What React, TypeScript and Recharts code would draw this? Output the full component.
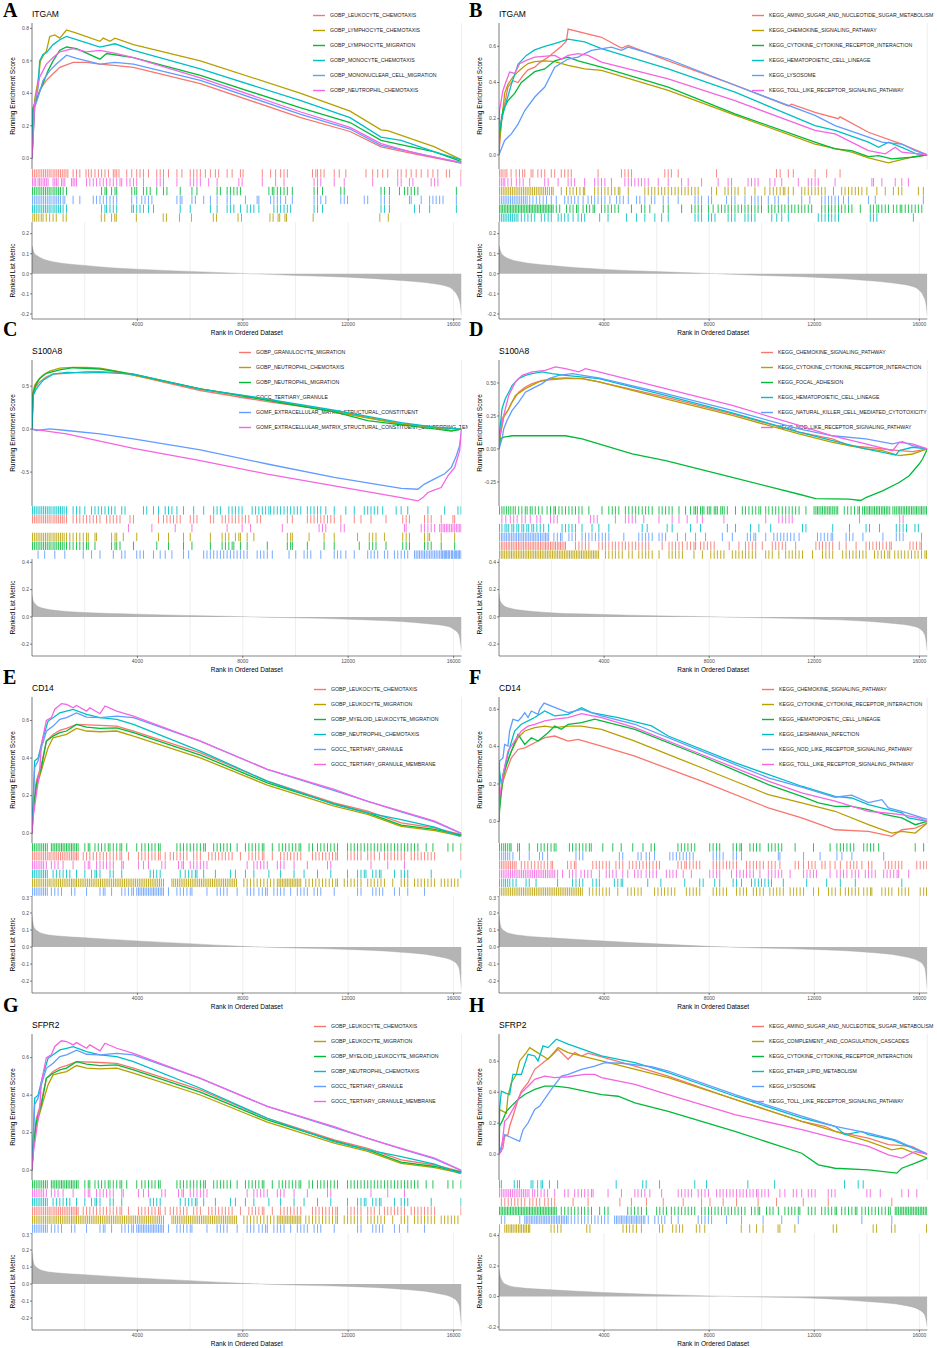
import React from "react"
import { Area, AreaChart, CartesianGrid, Line, LineChart, Scatter, ScatterChart, XAxis, YAxis } from "recharts"

// ggplot default hue palette, in legend order
const hue = ["#F8766D", "#B79F00", "#00BA38", "#00BFC4", "#619CFF", "#F564E3"]
const maxRank = 16300
const rankTicks = [4000, 8000, 12000, 16000]
const gridTicks = [2000, 4000, 6000, 8000, 10000, 12000, 14000, 16000]

// ---------- A: ITGAM (GO) ----------
const setsA = ["GOBP_LEUKOCYTE_CHEMOTAXIS", "GOBP_LYMPHOCYTE_CHEMOTAXIS", "GOBP_LYMPHOCYTE_MIGRATION", "GOBP_MONOCYTE_CHEMOTAXIS", "GOBP_MONONUCLEAR_CELL_MIGRATION", "GOBP_NEUTROPHIL_CHEMOTAXIS"]
const esA1 = [[0, 0], [100, 0.315], [290, 0.42], [545, 0.48], [800, 0.52], [1055, 0.56], [1560, 0.59], [2070, 0.59], [2580, 0.58], [3215, 0.57], [3850, 0.56], [6390, 0.46], [10200, 0.25], [12070, 0.165], [13245, 0.07], [14645, 0.023], [16300, -0.03]]
const esA2 = [[0, 0], [100, 0.36], [230, 0.48], [320, 0.6], [420, 0.63], [545, 0.66], [675, 0.75], [865, 0.76], [1055, 0.74], [1310, 0.79], [1690, 0.77], [2580, 0.72], [2705, 0.74], [2960, 0.72], [3150, 0.74], [3850, 0.7], [6390, 0.6], [10200, 0.4], [12070, 0.29], [13245, 0.175], [13500, 0.17], [15280, 0.07], [16300, -0.01]]
const esA3 = [[0, 0], [40, 0.31], [165, 0.36], [420, 0.46], [610, 0.54], [800, 0.6], [1055, 0.665], [1310, 0.685], [1690, 0.675], [2580, 0.61], [2830, 0.645], [3850, 0.62], [6390, 0.51], [10200, 0.31], [12070, 0.22], [13245, 0.11], [15280, 0.04], [16300, -0.02]]
const esA4 = [[0, 0], [40, 0.3], [165, 0.38], [230, 0.44], [290, 0.6], [420, 0.64], [545, 0.65], [800, 0.7], [1055, 0.73], [1310, 0.75], [1690, 0.73], [2580, 0.685], [3150, 0.705], [3850, 0.665], [6390, 0.55], [10200, 0.355], [12070, 0.25], [13245, 0.13], [14010, 0.11], [15280, 0.04], [16300, -0.01]]
const esA5 = [[0, 0], [100, 0.315], [230, 0.375], [420, 0.48], [675, 0.54], [925, 0.58], [1310, 0.635], [1690, 0.615], [2580, 0.58], [3150, 0.59], [3850, 0.58], [6390, 0.48], [10200, 0.27], [12070, 0.18], [13245, 0.08], [14645, 0.03], [16300, -0.03]]
const esA6 = [[0, 0], [100, 0.335], [290, 0.5], [545, 0.58], [800, 0.62], [1055, 0.655], [1560, 0.675], [2070, 0.655], [2580, 0.665], [3215, 0.645], [3850, 0.62], [6390, 0.495], [10200, 0.285], [12070, 0.19], [13245, 0.09], [14645, 0.027], [16300, -0.025]]
const hitsA1 = [20, 90, 160, 230, 300, 370, 440, 510, 580, 650, 720, 800, 870, 940, 1010, 1080, 1150, 1220, 1290, 1360, 1560, 1690, 1815, 2050, 2150, 2250, 2390, 2520, 2640, 2770, 2900, 3085, 3150, 3215, 3300, 3595, 3785, 3975, 4100, 4230, 4420, 4735, 4865, 4990, 5180, 5500, 5690, 6005, 6135, 6260, 6390, 6580, 6770, 6960, 7085, 7405, 7595, 7910, 8010, 8740, 9055, 9245, 9435, 9565, 9690, 10645, 10770, 10835, 10960, 11085, 11470, 11660, 11910, 12675, 12930, 13120, 13310, 13500, 13880, 14010, 14200, 14390, 14580, 14770, 15025, 15215, 15400, 15725, 15850, 16280]
const hitsA2 = [30, 100, 180, 260, 350, 420, 540, 670, 800, 920, 1180, 1300, 2630, 2760, 3020, 3140, 3200, 3960, 4980, 5100, 5600, 6050, 6880, 7000, 7820, 7950, 9030, 9150, 9340, 9400, 9600, 9660, 10670, 13200, 13520]
const hitsA3 = [20, 90, 160, 230, 300, 370, 440, 510, 580, 650, 720, 800, 870, 940, 1010, 1080, 1180, 1310, 2640, 2770, 2830, 3020, 3150, 3215, 3785, 3900, 3975, 4230, 4355, 4485, 4735, 4990, 5120, 5625, 6070, 6260, 7025, 7150, 7405, 7530, 7660, 7785, 7910, 8990, 9120, 9180, 9310, 9435, 9565, 9690, 9880, 10705, 10835, 11025, 11720, 11850, 13245, 13375, 13565, 13945, 14135, 14260, 14390, 14515, 14645, 16105]
const hitsA4 = [20, 90, 160, 230, 300, 370, 440, 510, 580, 650, 720, 800, 870, 940, 1010, 1080, 1180, 1310, 2640, 2770, 2830, 2960, 3085, 3215, 3785, 3850, 3975, 4100, 4230, 4420, 4610, 5625, 6005, 6770, 7025, 7405, 7530, 7660, 7910, 8165, 8295, 8420, 8610, 9180, 9310, 9435, 9565, 9690, 9815, 10705, 10835, 11025, 13245, 13375, 13565, 14515, 14705, 15090, 16105]
const hitsA5 = [20, 90, 160, 230, 300, 370, 440, 510, 580, 650, 720, 800, 870, 940, 1010, 1080, 1180, 1245, 1560, 1815, 2325, 2450, 2580, 2705, 2830, 2960, 3085, 3215, 3785, 3975, 4165, 4290, 4420, 4550, 5500, 5625, 5690, 6070, 6200, 6515, 6770, 7025, 7405, 7530, 8100, 8545, 8610, 9055, 9180, 9310, 9435, 9625, 9880, 10705, 10835, 10960, 11150, 11720, 11850, 11975, 12610, 12740, 13245, 13375, 13565, 14325, 14390, 14770, 15090, 15215, 15340, 15470, 15600, 16105]
const hitsA6 = [20, 80, 140, 230, 290, 350, 420, 480, 545, 610, 800, 865, 925, 990, 1120, 1180, 1245, 1500, 1560, 1625, 1690, 2070, 2195, 2325, 2450, 2580, 2705, 2830, 2960, 3085, 3215, 3340, 3405, 3595, 3720, 3850, 3975, 4230, 4735, 4865, 4990, 5500, 6005, 6135, 6260, 6390, 6705, 7025, 7850, 7975, 8740, 9245, 9565, 10705, 10835, 10960, 11470, 11850, 12930, 13880, 14010, 14325, 14455, 15150, 15280, 15405, 16280]
const rowsA = [0, 5, 2, 4, 3, 1]
const rankedA = [[0, 0.14], [40, 0.12], [100, 0.1], [200, 0.09], [400, 0.075], [800, 0.06], [1300, 0.05], [2000, 0.042], [3000, 0.03], [4000, 0.023], [6000, 0.012], [8000, 0.002], [10000, -0.008], [12000, -0.017], [14000, -0.033], [15000, -0.045], [15800, -0.065], [16000, -0.083], [16150, -0.11], [16250, -0.15], [16300, -0.21]]

// ---------- B: ITGAM (KEGG) ----------
const setsB = ["KEGG_AMINO_SUGAR_AND_NUCLEOTIDE_SUGAR_METABOLISM", "KEGG_CHEMOKINE_SIGNALING_PATHWAY", "KEGG_CYTOKINE_CYTOKINE_RECEPTOR_INTERACTION", "KEGG_HEMATOPOIETIC_CELL_LINEAGE", "KEGG_LYSOSOME", "KEGG_TOLL_LIKE_RECEPTOR_SIGNALING_PATHWAY"]
const esB1 = [[0, 0], [90, 0.2], [215, 0.28], [340, 0.375], [530, 0.41], [725, 0.4], [915, 0.44], [1105, 0.47], [1360, 0.485], [1550, 0.51], [1865, 0.54], [2120, 0.57], [2375, 0.6], [2565, 0.63], [2630, 0.695], [3900, 0.65], [4660, 0.59], [4915, 0.605], [6440, 0.52], [8980, 0.385], [11010, 0.27], [11135, 0.28], [12025, 0.235], [12915, 0.2], [12980, 0.21], [14060, 0.125], [15330, 0.06], [16300, 0]]
const esB2 = [[0, 0], [20, 0.08], [90, 0.17], [215, 0.34], [340, 0.39], [530, 0.43], [725, 0.46], [915, 0.485], [1105, 0.505], [1360, 0.515], [1740, 0.52], [2120, 0.515], [2630, 0.495], [3260, 0.475], [3900, 0.467], [6440, 0.356], [8980, 0.22], [12025, 0.06], [13420, 0.015], [14060, -0.017], [14820, -0.044], [15200, -0.03], [15710, -0.013], [16300, 0]]
const esB3 = [[0, 0], [20, 0.12], [150, 0.245], [340, 0.3], [595, 0.34], [850, 0.4], [1105, 0.43], [1360, 0.46], [1740, 0.475], [2120, 0.52], [2630, 0.54], [3010, 0.52], [3900, 0.485], [6440, 0.375], [8980, 0.227], [12025, 0.07], [12790, 0.033], [13420, 0.024], [14060, -0.01], [14450, -0.004], [14950, -0.022], [15710, -0.013], [16300, 0]]
const esB4 = [[0, 0], [20, 0.15], [215, 0.26], [470, 0.39], [725, 0.5], [1040, 0.55], [1360, 0.58], [1740, 0.6], [2120, 0.615], [2630, 0.64], [3260, 0.625], [3900, 0.587], [6440, 0.476], [8980, 0.347], [12025, 0.162], [12790, 0.135], [14060, 0.07], [14450, 0.042], [14820, 0.07], [15330, 0.042], [15900, 0.005], [16300, 0]]
const esB5 = [[0, 0], [215, 0.08], [470, 0.116], [725, 0.17], [980, 0.245], [1360, 0.32], [1740, 0.375], [2120, 0.485], [2630, 0.53], [3010, 0.54], [3260, 0.56], [3520, 0.578], [4280, 0.596], [4660, 0.578], [4915, 0.596], [6440, 0.53], [8980, 0.385], [12025, 0.218], [12790, 0.162], [14060, 0.098], [14570, 0.07], [15330, 0.06], [15840, 0.024], [16300, 0]]
const esB6 = [[0, 0], [20, 0.245], [150, 0.356], [280, 0.41], [405, 0.458], [595, 0.45], [785, 0.504], [1040, 0.522], [1360, 0.54], [2120, 0.55], [2375, 0.53], [2630, 0.55], [3010, 0.56], [3390, 0.55], [3900, 0.513], [6440, 0.42], [8980, 0.3], [12025, 0.135], [12790, 0.116], [14060, 0.024], [14700, 0.006], [15080, 0.042], [15330, 0.015], [16300, 0]]
const hitsB1 = [20, 80, 150, 230, 300, 460, 650, 780, 900, 980, 1220, 1290, 1480, 1610, 1740, 1990, 2120, 2370, 2500, 2630, 2750, 3770, 4660, 4790, 4920, 5040, 6310, 6440, 6560, 6820, 8280, 10560, 10700, 11010, 11200, 12030, 12470, 12980]
const hitsB2 = [20, 90, 160, 230, 300, 370, 440, 510, 580, 650, 720, 790, 860, 930, 1000, 1070, 1140, 1210, 1280, 1350, 1420, 1490, 1560, 1630, 1700, 1770, 1840, 1920, 2000, 2060, 2370, 2570, 2700, 2820, 2950, 3080, 3210, 3260, 3640, 3770, 3900, 4030, 4150, 4280, 4410, 4540, 4600, 4920, 5550, 5680, 5810, 5930, 6060, 6190, 6310, 6440, 6570, 6700, 6820, 6950, 7080, 7200, 7330, 7460, 7580, 8090, 8280, 8600, 8720, 8850, 8980, 9100, 9360, 9740, 10120, 10310, 10440, 10570, 10700, 10820, 10880, 11010, 11200, 11520, 11640, 11770, 11900, 12030, 12150, 12280, 12410, 12730, 13040, 13170, 13300, 13430, 13560, 13680, 13810, 14000, 14380, 14700, 15010, 15200, 15330, 15960, 16150]
const hitsB3 = [20, 80, 140, 200, 260, 320, 380, 440, 500, 560, 620, 680, 740, 800, 860, 920, 980, 1040, 1100, 1160, 1220, 1280, 1340, 1400, 1460, 1520, 1580, 1640, 1700, 1760, 1820, 1880, 1940, 2000, 2060, 2180, 2310, 2570, 2700, 2820, 2950, 3010, 3200, 3330, 3450, 3580, 3640, 3900, 4030, 4150, 4280, 4410, 4540, 5040, 5420, 5550, 5740, 6250, 6440, 6950, 7330, 7460, 7580, 7710, 7970, 8150, 8340, 8470, 8600, 8720, 8850, 8980, 9100, 9230, 9360, 9480, 9610, 9740, 9860, 9990, 10250, 10380, 10500, 10630, 10760, 10880, 11010, 11140, 11260, 11390, 11520, 11640, 11770, 11900, 12280, 12410, 12540, 12660, 12790, 12920, 13040, 13170, 13300, 13430, 13750, 14130, 14250, 14380, 14450, 14570, 14700, 14820, 15010, 15140, 15270, 15330, 15460, 15580, 15710, 15840, 15960, 16090]
const hitsB4 = [20, 90, 160, 230, 300, 370, 440, 510, 580, 650, 720, 850, 980, 1100, 1230, 1360, 1610, 1740, 1870, 1990, 2250, 2370, 2500, 2630, 2820, 3010, 3140, 3260, 3830, 4150, 4850, 5230, 5550, 5930, 6190, 6440, 7460, 7580, 7710, 7970, 8090, 8220, 8720, 8850, 8980, 9360, 9480, 9610, 9740, 10380, 10570, 10760, 11010, 12150, 12280, 12410, 12540, 12660, 12790, 12920, 14130, 14250, 14380, 15770]
const hitsB5 = [20, 90, 160, 230, 300, 370, 440, 510, 580, 650, 720, 790, 860, 930, 1000, 1070, 1170, 1290, 1420, 1550, 1680, 1810, 1990, 2180, 2500, 2630, 2750, 2880, 3010, 3200, 3390, 3520, 3640, 3770, 3900, 4030, 4220, 4470, 4600, 4730, 4920, 5230, 5360, 5550, 5800, 5930, 6250, 6440, 6820, 7460, 7580, 7710, 7970, 8090, 8660, 8850, 8980, 9360, 9610, 9740, 9860, 9990, 10250, 10500, 10630, 11010, 11520, 11830, 12280, 12410, 12540, 12660, 12790, 12920, 13110, 13300, 14060, 14320, 16150]
const hitsB6 = [20, 90, 160, 220, 340, 470, 660, 790, 920, 1170, 1740, 1870, 2250, 2630, 2750, 2880, 3260, 3640, 3770, 3900, 4030, 4280, 4790, 4920, 5040, 5170, 5300, 5420, 5550, 5680, 6060, 6440, 6950, 7200, 7710, 8340, 8720, 8850, 9480, 9610, 9740, 9860, 10310, 10500, 10760, 11390, 11770, 11900, 12030, 12150, 12790, 14190, 14250, 14570, 15080, 15330, 15580]
const rowsB = [0, 5, 1, 4, 2, 3]
const rankedB = [[0, 0.14], [40, 0.12], [100, 0.1], [200, 0.088], [400, 0.074], [800, 0.06], [1300, 0.05], [2000, 0.041], [3000, 0.03], [4000, 0.022], [6000, 0.011], [8000, 0.002], [10000, -0.008], [12000, -0.017], [14000, -0.033], [15000, -0.046], [15800, -0.066], [16000, -0.083], [16150, -0.11], [16250, -0.15], [16300, -0.21]]

// ---------- C: S100A8 (GO) ----------
const setsC = ["GOBP_GRANULOCYTE_MIGRATION", "GOBP_NEUTROPHIL_CHEMOTAXIS", "GOBP_NEUTROPHIL_MIGRATION", "GOCC_TERTIARY_GRANULE", "GOMF_EXTRACELLULAR_MATRIX_STRUCTURAL_CONSTITUENT", "GOMF_EXTRACELLULAR_MATRIX_STRUCTURAL_CONSTITUENT_CONFERRING_TENSILE_STRENGTH"]
const esC1 = [[0, 0], [40, 0.41], [140, 0.49], [290, 0.55], [545, 0.61], [800, 0.64], [1310, 0.65], [2070, 0.67], [2580, 0.67], [3215, 0.66], [3850, 0.63], [6390, 0.45], [8930, 0.32], [11470, 0.21], [14010, 0.06], [15280, 0.023], [16300, 0]]
const esC2 = [[0, 0], [40, 0.43], [100, 0.51], [230, 0.57], [420, 0.63], [675, 0.675], [1055, 0.71], [1560, 0.72], [2070, 0.72], [2580, 0.71], [3215, 0.675], [3850, 0.63], [6390, 0.47], [8930, 0.345], [11470, 0.2], [14010, 0.06], [15280, 0.023], [15915, -0.016], [16300, 0]]
const esC3 = [[0, 0], [40, 0.41], [140, 0.51], [290, 0.59], [545, 0.65], [1055, 0.69], [1560, 0.715], [2580, 0.7], [3850, 0.64], [6390, 0.47], [8930, 0.335], [11470, 0.2], [12740, 0.1], [14010, 0.05], [15280, 0.004], [15915, -0.023], [16300, 0]]
const esC4 = [[0, 0], [40, 0.39], [165, 0.47], [420, 0.57], [800, 0.64], [1310, 0.66], [2070, 0.655], [2580, 0.66], [3850, 0.64], [6390, 0.465], [8420, 0.375], [8930, 0.35], [11470, 0.22], [14010, 0.075], [15280, 0.023], [16300, 0]]
const esC5 = [[0, 0], [165, -0.016], [675, 0.004], [1310, -0.016], [2580, -0.055], [3850, -0.113], [6390, -0.242], [8930, -0.406], [11470, -0.5625], [14010, -0.69], [14645, -0.7], [14895, -0.64], [15280, -0.58], [15660, -0.52], [15915, -0.445], [16105, -0.31], [16230, -0.19], [16300, 0]]
const esC6 = [[0, 0], [1310, -0.055], [3850, -0.223], [6390, -0.367], [8930, -0.523], [11470, -0.66], [14010, -0.797], [14645, -0.836], [14835, -0.797], [15025, -0.738], [15280, -0.707], [15530, -0.68], [15785, -0.543], [16040, -0.445], [16230, -0.25], [16300, 0]]
const hitsC1 = [20, 90, 160, 230, 300, 370, 440, 510, 580, 650, 720, 800, 870, 940, 1010, 1080, 1150, 1220, 1310, 1560, 1690, 1815, 1945, 2070, 2195, 2325, 2450, 2580, 2830, 2960, 3085, 3215, 3340, 3720, 3850, 4800, 4990, 5120, 5245, 5370, 5500, 5625, 6005, 6135, 6260, 6770, 6895, 7215, 7340, 7470, 7595, 7720, 7850, 7975, 8100, 8230, 8545, 8675, 9690, 9880, 10450, 10580, 10705, 10835, 10960, 11085, 11215, 11340, 11470, 11720, 12230, 12485, 12865, 13435, 14070, 14200, 14325, 14895, 15025, 15150, 15530, 15975, 16040]
const hitsC2 = [20, 90, 160, 230, 300, 370, 440, 510, 580, 650, 720, 800, 870, 940, 1010, 1080, 1150, 1220, 1310, 1435, 1560, 1690, 1815, 1945, 2070, 2135, 2390, 2450, 3020, 3150, 3215, 3465, 3975, 4800, 5180, 5750, 6005, 6770, 7215, 7340, 7470, 7720, 7850, 7910, 8165, 8420, 9690, 9815, 9880, 10515, 11085, 11470, 12355, 12800, 12930, 13055, 13375, 14070, 14200, 14325, 14895, 15025, 15090, 15530, 16040]
const hitsC3 = [20, 90, 160, 230, 300, 370, 440, 510, 580, 650, 720, 800, 870, 940, 1010, 1080, 1150, 1220, 1310, 1435, 1560, 1690, 1815, 1945, 2070, 2135, 2390, 3020, 3150, 3215, 3340, 3850, 4735, 5180, 5750, 6070, 6770, 7215, 7340, 7470, 7595, 7660, 7910, 8165, 8930, 9690, 9815, 9880, 10450, 11085, 11470, 12420, 12800, 12930, 13055, 13435, 14070, 14200, 14325, 14895, 15025, 15150, 15530, 16040]
const hitsC4 = [20, 90, 160, 230, 300, 370, 440, 510, 580, 650, 720, 800, 870, 940, 1010, 1080, 1150, 1220, 1310, 1560, 1690, 1815, 2005, 2260, 2390, 2515, 2640, 2770, 2900, 3020, 3150, 3405, 3530, 4230, 4355, 4610, 4800, 5055, 5180, 5310, 5500, 5750, 6135, 6515, 6895, 7025, 7150, 7470, 7595, 7720, 7850, 7975, 8355, 8485, 8610, 8740, 8865, 8990, 9055, 9180, 9310, 9435, 9565, 9690, 9815, 9945, 10070, 10200, 10450, 10580, 10705, 10835, 10960, 11150, 11470, 11910, 12230, 12610, 12740, 12865, 12990, 13120, 13310, 13820, 14010, 14260, 15025, 15660, 16165, 16280]
const hitsC5 = [230, 480, 865, 1245, 1945, 2260, 2580, 3085, 3405, 3530, 3975, 4100, 4230, 4610, 4865, 5055, 5310, 5750, 5945, 6515, 6640, 6770, 6895, 7025, 7150, 7275, 7405, 7530, 7660, 7785, 7910, 8040, 8165, 8545, 8675, 8800, 8930, 9120, 9755, 10010, 10325, 10450, 10580, 10960, 11470, 11595, 11720, 11910, 12230, 12740, 12865, 12990, 13120, 13375, 13500, 13755, 13880, 14010, 14135, 14260, 14515, 14580, 14645, 14705, 14770, 14835, 14895, 14960, 15025, 15090, 15150, 15215, 15280, 15340, 15405, 15470, 15530, 15570, 15600, 15660, 15700, 15725, 15785, 15820, 15850, 15915, 15950, 15975, 16040, 16080, 16105, 16165, 16200, 16230, 16280]
const hitsC6 = [3660, 4550, 5435, 6070, 7405, 7975, 8295, 9500, 10895, 11025, 11150, 11720, 11850, 14135, 14200, 14770, 14895, 15025, 15150, 15280, 15470, 15530, 15600, 15660, 15725, 15785, 15850, 15915, 15975, 16040, 16105, 16165, 16230, 16280]
const rowsC = [3, 0, 5, 1, 2, 4]
const rankedC = [[0, 0.16], [40, 0.12], [100, 0.1], [200, 0.08], [400, 0.065], [800, 0.05], [1300, 0.04], [2000, 0.032], [4000, 0.02], [6000, 0.01], [8000, 0.002], [10000, -0.007], [12000, -0.017], [14000, -0.034], [15000, -0.05], [15800, -0.07], [16000, -0.09], [16200, -0.13], [16300, -0.25]]

// ---------- D: S100A8 (KEGG) ----------
const setsD = ["KEGG_CHEMOKINE_SIGNALING_PATHWAY", "KEGG_CYTOKINE_CYTOKINE_RECEPTOR_INTERACTION", "KEGG_FOCAL_ADHESION", "KEGG_HEMATOPOIETIC_CELL_LINEAGE", "KEGG_NATURAL_KILLER_CELL_MEDIATED_CYTOTOXICITY", "KEGG_NOD_LIKE_RECEPTOR_SIGNALING_PATHWAY"]
const esD1 = [[0, 0], [50, 0.127], [115, 0.23], [305, 0.28], [495, 0.355], [750, 0.43], [1005, 0.47], [1260, 0.495], [1640, 0.52], [2530, 0.533], [3165, 0.533], [3800, 0.508], [6340, 0.393], [8880, 0.266], [11420, 0.127], [12690, 0.076], [13325, 0.025], [13960, 0.013], [15230, -0.013], [15735, -0.02], [16300, 0]]
const esD2 = [[0, 0], [50, 0.1], [180, 0.24], [370, 0.305], [625, 0.406], [1005, 0.457], [1510, 0.508], [2020, 0.533], [2530, 0.538], [3165, 0.533], [3800, 0.508], [6340, 0.38], [8880, 0.254], [11420, 0.114], [12690, 0.05], [13960, 0], [14595, -0.013], [15230, -0.05], [15735, -0.038], [16300, 0]]
const esD3 = [[0, 0], [50, 0.076], [180, 0.089], [495, 0.1], [1260, 0.1], [2530, 0.1], [3165, 0.076], [3800, 0.038], [5070, -0.038], [6340, -0.089], [8880, -0.216], [11420, -0.343], [12055, -0.376], [13325, -0.38], [13770, -0.39], [13960, -0.368], [14595, -0.317], [15230, -0.254], [15610, -0.203], [15990, -0.114], [16120, -0.076], [16300, 0]]
const esD4 = [[0, 0], [25, 0.127], [115, 0.305], [240, 0.38], [370, 0.43], [495, 0.48], [750, 0.533], [1005, 0.558], [1260, 0.571], [1640, 0.584], [2020, 0.571], [2530, 0.558], [3800, 0.533], [6340, 0.406], [8880, 0.274], [11420, 0.127], [12690, 0.063], [13960, 0], [15100, -0.046], [15230, -0.013], [15735, 0.013], [16300, 0]]
const esD5 = [[0, 0], [115, 0.076], [180, 0.152], [305, 0.216], [495, 0.29], [750, 0.355], [1005, 0.43], [1260, 0.457], [1640, 0.495], [1895, 0.533], [2275, 0.558], [2785, 0.571], [3545, 0.546], [3800, 0.538], [6340, 0.419], [8880, 0.292], [11420, 0.152], [12690, 0.1], [13960, 0.076], [14975, 0.038], [15355, 0.056], [15735, 0.025], [16300, 0]]
const esD6 = [[0, 0], [25, 0.1], [180, 0.254], [370, 0.406], [625, 0.508], [880, 0.558], [1260, 0.584], [1765, 0.596], [2145, 0.622], [2530, 0.609], [3035, 0.584], [3290, 0.609], [3800, 0.584], [6340, 0.457], [8880, 0.33], [11420, 0.178], [12690, 0.1], [13960, 0.038], [14975, -0.013], [15230, 0.05], [15735, 0.038], [16300, 0]]
const hitsD1 = [20, 90, 150, 220, 280, 350, 410, 480, 540, 610, 670, 740, 800, 870, 930, 1000, 1060, 1130, 1190, 1260, 1320, 1380, 1450, 1510, 1580, 1640, 1710, 1770, 1830, 1890, 1960, 2020, 2090, 2150, 2220, 2280, 2340, 2400, 2470, 2530, 2910, 3040, 3160, 3290, 3420, 3800, 3930, 4050, 4180, 4310, 4430, 4560, 4690, 4810, 4940, 5070, 5200, 5320, 5450, 5580, 5700, 6210, 6470, 6590, 6720, 6850, 6980, 7160, 7290, 7420, 7480, 7670, 7800, 7930, 8060, 8190, 8760, 9130, 9380, 9510, 9640, 9770, 10020, 10400, 10530, 10650, 10780, 10910, 11290, 12060, 12190, 12310, 12440, 12570, 12700, 12950, 13210, 13590, 13970, 14100, 14230, 14360, 14480, 14610, 14740, 14870, 14930, 15640, 15760, 15890, 16020, 16080]
const hitsD2 = [20, 85, 150, 215, 280, 345, 410, 475, 540, 605, 670, 735, 800, 865, 930, 995, 1060, 1125, 1190, 1255, 1320, 1385, 1450, 1515, 1580, 1645, 1710, 1775, 1840, 1905, 1970, 2035, 2100, 2165, 2230, 2295, 2360, 2425, 2490, 2555, 2620, 2685, 2750, 2815, 2880, 2945, 3010, 3075, 3140, 3205, 3270, 3335, 3400, 3465, 3530, 3595, 3660, 3725, 3790, 4050, 4180, 4310, 4430, 4560, 4690, 4940, 5070, 5320, 5450, 5580, 5700, 5830, 6090, 6470, 6590, 6720, 6850, 6980, 7420, 7740, 8060, 8190, 8310, 8440, 8560, 8880, 9010, 9130, 9260, 9380, 9510, 9640, 9770, 10150, 10270, 10400, 10650, 10910, 11040, 11160, 11290, 11420, 11550, 11930, 12310, 12440, 12570, 12700, 13080, 13210, 13340, 13470, 13590, 13720, 13850, 13970, 14290, 14420, 14550, 14670, 14800, 14870, 15060, 15190, 15310, 15440, 15570, 15700, 15830, 15950, 16080, 16210, 16270]
const hitsD3 = [20, 110, 190, 280, 370, 450, 540, 620, 750, 870, 1000, 1070, 1190, 1260, 1380, 1510, 1640, 1830, 1960, 2090, 2150, 2280, 2400, 2530, 2660, 2780, 2910, 3040, 3160, 3420, 3920, 4180, 4310, 4430, 4560, 4810, 4940, 5070, 5200, 5320, 5450, 5580, 5700, 5830, 6090, 6210, 6340, 6470, 6590, 6850, 7100, 7290, 7420, 7480, 7550, 7670, 7740, 7800, 7930, 8000, 8060, 8190, 8250, 8310, 8440, 8500, 8570, 8690, 9000, 9260, 9380, 9510, 9640, 9770, 9890, 9960, 10150, 10270, 10400, 10530, 10650, 10780, 10910, 11040, 11160, 11290, 11420, 11680, 11990, 12060, 12120, 12180, 12250, 12310, 12380, 12440, 12510, 12570, 12630, 12700, 12760, 12830, 12890, 13140, 13270, 13400, 13530, 13660, 13720, 13840, 13910, 13970, 14040, 14100, 14160, 14230, 14290, 14360, 14420, 14480, 14550, 14610, 14670, 14740, 14800, 14870, 14990, 15060, 15120, 15190, 15250, 15310, 15380, 15440, 15510, 15570, 15630, 15700, 15760, 15830, 15890, 15950, 16020, 16080, 16140, 16210, 16270]
const hitsD4 = [20, 110, 230, 300, 370, 490, 560, 680, 750, 870, 940, 1060, 1130, 1250, 1320, 1440, 1570, 1700, 1890, 2400, 2530, 2660, 2780, 2910, 3160, 3540, 3800, 4180, 5450, 5640, 6400, 6590, 7290, 7670, 8690, 9000, 9570, 9890, 10340, 11550, 11680, 12700, 13340, 13970, 14100, 14480, 15120, 15250, 15380, 15510, 15830, 15960]
const hitsD5 = [20, 90, 150, 220, 280, 350, 410, 480, 540, 610, 670, 740, 800, 870, 930, 1000, 1060, 1130, 1190, 1260, 1320, 1380, 1450, 1510, 1580, 1640, 1710, 1770, 1830, 1890, 2090, 2220, 2340, 2400, 2660, 2780, 2910, 3160, 3290, 3420, 3540, 3670, 3800, 3930, 4050, 4180, 4750, 5320, 5450, 5580, 5700, 5830, 6090, 6210, 6340, 6790, 7100, 7480, 7860, 8500, 8880, 9450, 9570, 9700, 9770, 10150, 10460, 10590, 10720, 10840, 10970, 11100, 11230, 11420, 12120, 12250, 12380, 12510, 12640, 12700, 13210, 13340, 13470, 13850, 14610, 15120, 15250, 15380, 16080]
const hitsD6 = [110, 260, 430, 560, 690, 870, 1000, 1190, 1440, 1570, 1960, 2090, 2220, 3040, 3480, 3610, 3740, 4430, 4810, 4940, 5070, 5200, 5510, 6090, 6590, 6850, 7160, 7540, 7740, 8560, 10150, 10650, 10780, 10910, 11040, 11160, 13720, 15250, 15380]
const rowsD = [2, 5, 3, 4, 0, 1]
const rankedD = [[0, 0.17], [40, 0.12], [100, 0.1], [200, 0.08], [400, 0.065], [800, 0.05], [1300, 0.04], [2000, 0.03], [4000, 0.018], [6000, 0.008], [8000, 0.001], [10000, -0.007], [12000, -0.016], [14000, -0.032], [15000, -0.048], [15800, -0.07], [16000, -0.085], [16200, -0.13], [16300, -0.25]]

// ---------- E / G: CD14 and SFPR2 (GO) ----------
const setsE = ["GOBP_LEUKOCYTE_CHEMOTAXIS", "GOBP_LEUKOCYTE_MIGRATION", "GOBP_MYELOID_LEUKOCYTE_MIGRATION", "GOBP_NEUTROPHIL_CHEMOTAXIS", "GOCC_TERTIARY_GRANULE", "GOCC_TERTIARY_GRANULE_MEMBRANE"]
const esE1 = [[0, 0], [40, 0.117], [165, 0.277], [355, 0.366], [545, 0.49], [800, 0.526], [1055, 0.547], [1310, 0.558], [1690, 0.579], [2580, 0.574], [3215, 0.57], [3850, 0.544], [6390, 0.428], [8930, 0.277], [11470, 0.162], [12740, 0.117], [14010, 0.055], [15280, 0.028], [16300, -0.007]]
const esE2 = [[0, 0], [40, 0.1], [165, 0.24], [420, 0.366], [610, 0.455], [800, 0.508], [1055, 0.517], [1310, 0.526], [1690, 0.558], [2070, 0.544], [2580, 0.54], [3215, 0.544], [3850, 0.517], [6390, 0.401], [8930, 0.256], [11470, 0.144], [12740, 0.1], [14010, 0.037], [15280, 0.014], [16300, -0.016]]
const esE3 = [[0, 0], [40, 0.117], [165, 0.26], [355, 0.348], [545, 0.49], [800, 0.517], [1055, 0.535], [1310, 0.544], [1690, 0.579], [2070, 0.565], [2580, 0.558], [3215, 0.561], [3850, 0.535], [6390, 0.416], [8930, 0.268], [11470, 0.156], [12740, 0.108], [14010, 0.043], [15280, 0.02], [16300, -0.01]]
const esE4 = [[0, 0], [40, 0.153], [100, 0.384], [230, 0.4], [420, 0.508], [610, 0.597], [800, 0.615], [1055, 0.641], [1310, 0.65], [1560, 0.659], [2070, 0.632], [2580, 0.615], [3215, 0.606], [3850, 0.579], [6390, 0.437], [8930, 0.277], [11470, 0.153], [12740, 0.108], [14010, 0.073], [15280, 0.032], [16230, -0.016], [16300, -0.007]]
const esE5 = [[0, 0], [40, 0.117], [100, 0.35], [230, 0.384], [355, 0.455], [545, 0.543], [800, 0.57], [1055, 0.606], [1310, 0.615], [1690, 0.64], [2070, 0.618], [2580, 0.615], [3215, 0.623], [3850, 0.615], [6390, 0.49], [8930, 0.34], [11470, 0.227], [14010, 0.114], [15280, 0.06], [16300, -0.002]]
const esE6 = [[0, 0], [40, 0.08], [165, 0.206], [290, 0.33], [355, 0.47], [545, 0.6], [735, 0.615], [865, 0.66], [1120, 0.69], [1310, 0.686], [1560, 0.668], [1690, 0.68], [2070, 0.65], [2195, 0.668], [2580, 0.636], [2770, 0.677], [3215, 0.65], [3850, 0.623], [6390, 0.49], [8930, 0.34], [11470, 0.233], [12740, 0.17], [14010, 0.117], [15280, 0.064], [16300, 0]]
const hitsE1 = [20, 90, 160, 230, 300, 370, 440, 510, 580, 650, 720, 800, 870, 940, 1010, 1080, 1150, 1220, 1290, 1360, 1430, 1500, 1560, 1630, 1690, 1750, 1945, 2070, 2195, 2325, 2450, 2580, 2705, 2830, 2960, 3085, 3215, 3340, 3405, 3660, 4040, 4165, 4290, 4420, 4550, 4670, 4800, 4865, 5055, 5245, 5370, 5500, 5625, 5750, 5880, 6135, 6260, 6390, 6705, 6830, 6960, 7085, 7215, 7340, 7470, 7595, 7910, 8230, 8355, 8485, 8610, 8740, 8800, 9120, 9435, 9565, 9690, 9815, 9945, 10070, 10200, 10645, 10770, 10895, 11025, 11150, 11280, 11405, 11530, 11595, 11975, 12105, 12230, 12355, 12485, 12740, 12865, 12990, 13185, 13375, 13500, 13625, 13755, 13880, 14010, 14135, 14390, 14515, 14645, 14770, 14895, 15025, 15150, 15280, 16280]
const hitsE2 = [20, 90, 160, 230, 300, 370, 440, 510, 580, 650, 720, 800, 870, 940, 1010, 1080, 1150, 1220, 1290, 1360, 1430, 1500, 1560, 1630, 1690, 1760, 1830, 1900, 1970, 2040, 2110, 2180, 2250, 2320, 2390, 2460, 2530, 2600, 2670, 2740, 2810, 2880, 2950, 3020, 3090, 3160, 3230, 3300, 3370, 3440, 3510, 3580, 3650, 3720, 3790, 3860, 3930, 4000, 4070, 4140, 4210, 4280, 4350, 4420, 4490, 4560, 4630, 4700, 4770, 4840, 4910, 4990, 5310, 5380, 5450, 5520, 5590, 5660, 5730, 5800, 5870, 5940, 6010, 6080, 6150, 6220, 6290, 6360, 6430, 6500, 6570, 6640, 6710, 6780, 6850, 6920, 6990, 7060, 7130, 7200, 7270, 7340, 7410, 7480, 7550, 7620, 7690, 7760, 8040, 8165, 8295, 8420, 8545, 8675, 8800, 8930, 9055, 9180, 9310, 9375, 9440, 9500, 9565, 9630, 9690, 9755, 9820, 9880, 9945, 10010, 10070, 10135, 10200, 10390, 10515, 10645, 10770, 10895, 11025, 11150, 11280, 11405, 11530, 11595, 11850, 11975, 12105, 12230, 12355, 12485, 12740, 12865, 12990, 13120, 13245, 13375, 13690, 14010, 14135, 14260, 14515, 14645, 14770, 14895, 15025, 15150, 15280, 15530, 15660, 15785, 15915, 16040, 16165]
const hitsE3 = [20, 90, 160, 230, 300, 370, 440, 510, 580, 735, 800, 865, 925, 990, 1055, 1120, 1180, 1245, 1310, 1370, 1435, 1500, 1560, 1625, 1690, 1750, 2005, 2135, 2195, 2390, 2515, 2640, 2770, 2895, 2960, 3085, 3215, 3340, 3405, 3595, 3975, 4165, 4290, 4420, 4550, 4670, 4800, 4865, 5500, 5625, 5750, 5880, 6005, 6135, 6260, 6390, 6515, 6580, 6895, 7025, 7150, 7275, 7405, 7530, 7785, 8100, 8230, 8355, 8485, 8610, 8740, 8800, 9120, 9375, 9500, 9625, 9755, 9880, 10010, 10135, 10200, 10515, 10645, 10835, 10960, 11085, 11215, 11340, 11470, 11595, 11975, 12105, 12230, 12355, 12485, 12610, 12740, 12865, 12990, 13120, 13245, 13375, 13500, 13625, 13755, 13880, 14010, 14135, 14260, 14390, 14515, 14645, 14960, 15215, 15785, 15975, 16280]
const hitsE4 = [20, 90, 160, 230, 300, 370, 440, 510, 580, 800, 925, 1055, 1180, 1310, 1435, 1690, 2005, 2260, 2390, 2450, 2580, 2960, 3085, 3405, 4485, 4610, 4735, 4865, 5625, 5815, 5945, 6070, 6200, 6260, 6515, 6960, 7530, 7720, 8100, 8420, 8990, 9435, 9945, 10325, 10835, 11340, 11975, 12355, 12485, 12610, 12675, 12930, 13055, 13185, 13245, 13755, 14010, 14135, 14260, 15150, 16280]
const hitsE5 = [20, 90, 160, 230, 300, 370, 440, 510, 580, 735, 865, 990, 1120, 1500, 1625, 2070, 2580, 2705, 2770, 3020, 3405, 3530, 3660, 3785, 3850, 3975, 4040, 4100, 4165, 4230, 4290, 4355, 4420, 4485, 4550, 4610, 4670, 4735, 4800, 4865, 4925, 4990, 5180, 5500, 5625, 5750, 5880, 6005, 6070, 6640, 7025, 7150, 7275, 7405, 7785, 8165, 8295, 8420, 8610, 8740, 8865, 8930, 9180, 9310, 9435, 9565, 9815, 10070, 10200, 10325, 10450, 10705, 10835, 10960, 11470, 12355, 12485, 12930, 13055, 13185, 13310, 13755, 13945, 14260, 14895]
const hitsE6 = [20, 90, 160, 230, 300, 370, 440, 545, 735, 865, 990, 1180, 1560, 2005, 2135, 2195, 2450, 2580, 2705, 2830, 2960, 3085, 3405, 3465, 4040, 4230, 4420, 4925, 5055, 5560, 5690, 5750, 6005, 6135, 6260, 6390, 6515, 6640, 8165, 8420, 8545, 8675, 8800, 8930, 9310, 9435, 9565, 9945, 10450, 11215, 11340, 12865, 13500, 14135]
const rowsE = [2, 0, 5, 3, 1, 4]
const rowsG = [2, 5, 3, 0, 1, 4]
const rankedE = [[0, 0.19], [40, 0.14], [100, 0.11], [250, 0.09], [500, 0.075], [1000, 0.065], [2000, 0.055], [4000, 0.036], [6000, 0.02], [8000, 0.004], [10000, -0.006], [12000, -0.014], [14000, -0.03], [15200, -0.05], [16000, -0.083], [16200, -0.12], [16300, -0.25]]

// ---------- F: CD14 (KEGG) ----------
const setsF = ["KEGG_CHEMOKINE_SIGNALING_PATHWAY", "KEGG_CYTOKINE_CYTOKINE_RECEPTOR_INTERACTION", "KEGG_HEMATOPOIETIC_CELL_LINEAGE", "KEGG_LEISHMANIA_INFECTION", "KEGG_NOD_LIKE_RECEPTOR_SIGNALING_PATHWAY", "KEGG_TOLL_LIKE_RECEPTOR_SIGNALING_PATHWAY"]
const esF1 = [[0, 0], [20, 0.125], [150, 0.215], [280, 0.269], [470, 0.34], [725, 0.385], [980, 0.394], [1360, 0.421], [1740, 0.448], [2120, 0.457], [2630, 0.43], [3010, 0.439], [3900, 0.403], [5170, 0.349], [7710, 0.215], [10250, 0.072], [11520, 0.018], [12790, -0.045], [14060, -0.054], [14950, -0.08], [15330, -0.045], [15840, -0.036], [16300, -0.009]]
const esF2 = [[0, 0], [20, 0.09], [150, 0.215], [280, 0.305], [470, 0.376], [725, 0.448], [980, 0.484], [1360, 0.502], [1740, 0.51], [2120, 0.502], [2630, 0.51], [3140, 0.51], [3900, 0.493], [5170, 0.43], [7710, 0.287], [10250, 0.143], [11520, 0.099], [12790, 0.054], [14060, -0.018], [14950, -0.063], [15330, -0.054], [15840, -0.063], [16300, -0.009]]
const esF3 = [[0, 0], [20, 0.054], [150, 0.25], [340, 0.323], [470, 0.376], [725, 0.466], [980, 0.412], [1230, 0.448], [1485, 0.43], [1865, 0.475], [2120, 0.51], [2375, 0.493], [2630, 0.52], [3140, 0.529], [3645, 0.547], [3900, 0.538], [5170, 0.493], [7710, 0.35], [10250, 0.197], [11520, 0.134], [12155, 0.099], [12790, 0.08], [13420, 0.08], [14060, 0.063], [14700, 0.036], [15330, 0.018], [15840, -0.018], [16300, 0]]
const esF4 = [[0, 0], [20, 0.27], [90, 0.197], [215, 0.287], [405, 0.394], [595, 0.484], [850, 0.52], [1105, 0.538], [1360, 0.556], [1740, 0.591], [2120, 0.565], [2630, 0.573], [3140, 0.609], [3520, 0.582], [4535, 0.556], [5805, 0.511], [6440, 0.457], [8980, 0.314], [11520, 0.188], [12790, 0.134], [13420, 0.125], [14060, 0.09], [14820, 0.063], [15330, 0.045], [15580, 0.018], [16300, 0]]
const esF5 = [[0, 0], [20, 0.323], [150, 0.34], [215, 0.412], [340, 0.403], [405, 0.484], [530, 0.547], [725, 0.538], [850, 0.556], [980, 0.582], [1105, 0.556], [1230, 0.591], [1485, 0.573], [1550, 0.6], [1715, 0.633], [2120, 0.61], [2630, 0.582], [3140, 0.6], [3900, 0.565], [5170, 0.52], [7710, 0.376], [10250, 0.233], [11520, 0.183], [12790, 0.129], [13420, 0.14], [14060, 0.1], [14570, 0.116], [14820, 0.072], [15330, 0.054], [16300, 0.01]]
const esF6 = [[0, 0], [20, 0.125], [150, 0.25], [340, 0.376], [595, 0.43], [850, 0.484], [1105, 0.51], [1360, 0.52], [1740, 0.538], [2120, 0.547], [2630, 0.556], [3140, 0.577], [3900, 0.556], [5170, 0.502], [7710, 0.358], [10250, 0.215], [11520, 0.152], [12790, 0.108], [14060, 0.054], [15330, 0.036], [15960, 0.018], [16300, 0]]
const hitsF1 = [20, 90, 160, 230, 300, 370, 440, 510, 580, 650, 850, 980, 1100, 1230, 1360, 1490, 1600, 1720, 1850, 1980, 2040, 2610, 2740, 2870, 2930, 3570, 3700, 3820, 3950, 4080, 4200, 4450, 4580, 4710, 4960, 5090, 5220, 5350, 5480, 5610, 5730, 5860, 5990, 6110, 6810, 6940, 7070, 7130, 7260, 7390, 7510, 7640, 8150, 8280, 8400, 8530, 8660, 8780, 8910, 9040, 9420, 9550, 9680, 9800, 9930, 10060, 10250, 10380, 10510, 10690, 11270, 11400, 11590, 11780, 11910, 12030, 12290, 12410, 12600, 12790, 12990, 13240, 13370, 13500, 13620, 13810, 14060, 14190, 14700, 14830, 14950, 15080, 15210, 15330, 15900, 16030, 16160, 16280]
const hitsF2 = [20, 90, 160, 230, 300, 370, 440, 510, 580, 650, 720, 790, 860, 930, 1000, 1070, 1140, 1210, 1280, 1350, 1420, 1490, 1560, 1630, 1700, 1770, 1840, 1910, 1980, 2050, 2120, 2190, 2260, 2330, 2400, 2470, 2540, 2610, 2680, 2750, 2820, 2890, 2960, 3030, 3100, 3170, 3440, 3570, 3700, 3820, 3950, 4080, 4200, 4520, 4900, 5030, 5160, 5290, 5410, 5920, 6050, 6180, 6300, 6430, 6560, 6690, 7130, 7260, 7390, 7510, 7640, 8150, 8280, 8400, 8530, 8660, 9040, 9170, 9300, 9420, 9680, 9800, 9930, 10060, 10310, 10440, 10570, 10690, 10820, 11080, 11210, 11330, 11460, 11590, 11970, 12160, 12540, 12670, 12800, 12990, 13180, 13300, 13430, 13560, 13690, 13880, 14010, 14140, 14190, 14570, 14700, 14830, 14950, 15210, 15330, 15460, 15590, 16030, 16160, 16270]
const hitsF3 = [20, 100, 180, 250, 330, 410, 460, 710, 780, 1150, 1470, 1600, 1720, 1850, 1980, 2100, 2170, 2680, 2800, 2930, 3060, 3190, 3310, 3440, 3510, 3950, 4330, 4650, 5090, 5480, 5790, 5920, 6810, 6940, 7070, 7190, 7320, 7450, 8020, 8150, 8280, 8400, 8910, 9040, 9170, 9230, 9550, 9680, 9800, 9930, 10250, 10380, 10510, 10630, 10760, 11270, 11970, 12600, 12860, 12990, 13110, 13240, 13370, 13500, 13880, 14010, 14140, 14260, 14450, 15840, 16160]
const hitsF4 = [20, 100, 180, 250, 330, 410, 530, 650, 1030, 1150, 1410, 2230, 2800, 2930, 3060, 3190, 3570, 3700, 3820, 4390, 4520, 4650, 4710, 5660, 6160, 7070, 7640, 7770, 8210, 8400, 8910, 9040, 9230, 9610, 9740, 9870, 9990, 10120, 10250, 10370, 10820, 11710, 12470, 12990, 13560, 15330]
const hitsF5 = [20, 100, 180, 250, 330, 410, 530, 780, 1150, 1540, 1660, 1850, 2930, 3060, 3190, 4580, 4710, 5290, 5410, 5600, 5730, 5920, 6500, 6620, 6750, 6880, 7010, 7130, 7260, 7390, 8150, 8280, 8400, 8530, 8910, 9040, 9230, 10630, 10690, 11590, 12220, 12860, 13050, 13430, 14640]
const hitsF6 = [20, 90, 160, 230, 300, 370, 440, 510, 580, 650, 720, 790, 860, 930, 1000, 1070, 1140, 1210, 1280, 1350, 1420, 1490, 1560, 1630, 1700, 1770, 1840, 1910, 1980, 2050, 2120, 2230, 2420, 2680, 2800, 2930, 3120, 3250, 3380, 3510, 3820, 4080, 4200, 4330, 4460, 4710, 4900, 5160, 5290, 5410, 5600, 5730, 5860, 5990, 6370, 6500, 6620, 6750, 7010, 7320, 8020, 8150, 8280, 8400, 8850, 9040, 9170, 9300, 9420, 9550, 9680, 9930, 10250, 10380, 10510, 10630, 10760, 11080, 11590, 11720, 11840, 11970, 12080, 12600, 12860, 12990, 13110, 13240, 13430, 13560, 13690, 13940, 14060, 14190, 14320, 14640, 14770, 14890, 15020, 15150, 15210, 15590]
const rowsF = [2, 4, 0, 5, 3, 1]
const rankedF = [[0, 0.19], [40, 0.14], [100, 0.11], [250, 0.09], [500, 0.076], [1000, 0.065], [2000, 0.054], [4000, 0.035], [6000, 0.019], [8000, 0.004], [10000, -0.006], [12000, -0.014], [14000, -0.03], [15200, -0.05], [16000, -0.085], [16200, -0.12], [16300, -0.25]]

// ---------- H: SFRP2 (KEGG) ----------
const setsH = ["KEGG_AMINO_SUGAR_AND_NUCLEOTIDE_SUGAR_METABOLISM", "KEGG_COMPLEMENT_AND_COAGULATION_CASCADES", "KEGG_CYTOKINE_CYTOKINE_RECEPTOR_INTERACTION", "KEGG_ETHER_LIPID_METABOLISM", "KEGG_LYSOSOME", "KEGG_TOLL_LIKE_RECEPTOR_SIGNALING_PATHWAY"]
const esH1 = [[0, 0], [150, 0.039], [215, 0.115], [340, 0.126], [405, 0.18], [530, 0.245], [725, 0.353], [850, 0.407], [1105, 0.461], [1360, 0.548], [1675, 0.591], [1990, 0.634], [2250, 0.677], [2630, 0.613], [2880, 0.656], [3140, 0.634], [3390, 0.652], [5170, 0.569], [6440, 0.504], [8980, 0.353], [11520, 0.212], [12410, 0.18], [12790, 0.147], [14060, 0.104], [14820, 0.061], [15710, 0.05], [16300, 0]]
const esH2 = [[0, 0], [20, 0.288], [280, 0.266], [340, 0.374], [470, 0.461], [660, 0.515], [785, 0.602], [1040, 0.656], [1170, 0.688], [1360, 0.667], [1865, 0.613], [2250, 0.688], [2630, 0.656], [3900, 0.602], [6440, 0.494], [8980, 0.353], [11520, 0.212], [14060, 0.082], [14950, 0.028], [15330, 0.039], [16300, -0.026]]
const esH3 = [[0, 0], [20, 0.18], [150, 0.223], [280, 0.277], [470, 0.31], [725, 0.353], [980, 0.385], [1360, 0.418], [1740, 0.439], [2120, 0.439], [2630, 0.429], [3260, 0.407], [3900, 0.385], [4535, 0.374], [5170, 0.331], [6440, 0.277], [8980, 0.147], [11520, 0.006], [12155, -0.069], [12790, -0.091], [14060, -0.102], [15140, -0.123], [15330, -0.091], [15840, -0.058], [16300, -0.026]]
const esH4 = [[0, 0], [20, 0.288], [90, 0.407], [280, 0.392], [405, 0.385], [530, 0.515], [850, 0.515], [1105, 0.645], [1360, 0.634], [1485, 0.602], [1675, 0.699], [1865, 0.688], [2185, 0.742], [2630, 0.71], [3900, 0.634], [5170, 0.591], [6440, 0.526], [8980, 0.374], [11520, 0.234], [12790, 0.18], [13170, 0.126], [13800, 0.147], [14060, 0.126], [14950, 0.093], [16300, 0]]
const esH5 = [[0, 0], [90, 0.05], [215, 0.126], [785, 0.082], [915, 0.158], [1105, 0.201], [1360, 0.288], [1550, 0.31], [1990, 0.418], [2375, 0.504], [2630, 0.515], [3140, 0.548], [3645, 0.569], [4030, 0.591], [4660, 0.587], [5805, 0.565], [6440, 0.537], [8980, 0.385], [11520, 0.245], [12790, 0.18], [14060, 0.136], [15080, 0.093], [16300, 0]]
const esH6 = [[0, 0], [90, 0.017], [215, 0.212], [340, 0.234], [595, 0.31], [850, 0.396], [1170, 0.45], [1360, 0.483], [1740, 0.504], [2120, 0.494], [2630, 0.5], [3260, 0.515], [3645, 0.515], [3900, 0.494], [5170, 0.45], [6440, 0.385], [8980, 0.255], [11520, 0.158], [12790, 0.104], [14060, 0.05], [14820, -0.004], [15330, -0.026], [15840, 0.017], [16300, 0]]
const hitsH1 = [90, 220, 350, 470, 600, 720, 850, 980, 1170, 1290, 1420, 1550, 1740, 1870, 2000, 2120, 2820, 3390, 4600, 5040, 5610, 6250, 7010, 7710, 8030, 8530, 9040, 9860, 10560, 11580, 12530, 14950]
const hitsH2 = [20, 220, 290, 350, 420, 480, 540, 610, 670, 740, 800, 860, 930, 990, 1050, 1120, 1170, 1980, 2100, 2230, 2360, 3340, 3460, 4720, 4850, 4970, 5100, 5230, 5420, 6110, 6230, 6610, 6740, 6870, 6990, 7510, 7640, 7830, 9220, 9540, 9800, 10050, 10620, 10690, 11260, 12720, 12850, 14240, 14370, 14940, 15070, 16270]
const hitsH3 = [20, 80, 140, 200, 260, 320, 380, 440, 500, 560, 620, 680, 740, 800, 860, 920, 980, 1040, 1100, 1160, 1220, 1280, 1340, 1400, 1460, 1520, 1580, 1640, 1700, 1760, 1820, 1880, 1940, 2000, 2060, 2120, 2180, 2370, 2500, 2630, 2750, 2880, 3010, 3140, 3260, 3390, 3520, 3830, 4020, 4150, 4900, 5030, 5160, 5290, 5420, 5610, 6000, 6120, 6250, 6370, 6560, 6690, 6820, 6950, 7080, 7200, 7330, 7450, 7710, 7840, 7970, 8090, 8220, 8340, 8470, 8600, 8720, 8850, 8980, 9100, 9230, 9360, 9610, 9740, 9860, 9920, 10180, 10310, 10430, 10630, 10880, 11010, 11140, 11260, 11390, 11450, 11770, 11900, 12030, 12280, 12410, 12530, 12660, 12790, 12850, 13040, 13170, 13300, 13430, 13560, 13620, 13810, 13940, 14060, 14190, 14320, 14440, 14570, 14700, 14820, 14890, 15080, 15140, 15200, 15270, 15330, 15390, 15460, 15520, 15580, 15650, 15710, 15770, 15840, 15900, 15960, 16030, 16090, 16150, 16220, 16280]
const hitsH4 = [20, 90, 580, 700, 780, 1220, 1290, 1470, 1600, 1660, 1920, 2230, 4460, 5470, 5600, 6110, 7450, 7900, 9470, 10490, 13150, 13670, 13860]
const hitsH5 = [90, 220, 790, 980, 1040, 1100, 1170, 1230, 1290, 1360, 1420, 1480, 1550, 1610, 1680, 1740, 1800, 1870, 1930, 2000, 2060, 2120, 2190, 2250, 2310, 2380, 2440, 2500, 2570, 2630, 2750, 2880, 3010, 3140, 3260, 3390, 3520, 3650, 3770, 3900, 4020, 4150, 4400, 4470, 4530, 4600, 4660, 4720, 4790, 4850, 4910, 4980, 5040, 5100, 5170, 5230, 5290, 5360, 5420, 5490, 5550, 5680, 5930, 6060, 6190, 6310, 6560, 6820, 7580, 7710, 7840, 7970, 8090, 8660, 9230, 10050, 10760, 11390, 13810, 14950]
const hitsH6 = [20, 90, 160, 230, 300, 370, 440, 510, 580, 650, 720, 790, 860, 930, 1000, 1070, 1140, 1280, 1360, 1470, 1600, 1720, 1850, 2120, 2500, 2630, 2880, 3010, 3140, 3260, 3390, 3520, 3580, 4150, 4660, 5170, 5290, 5420, 5550, 5740, 6190, 6820, 6950, 7080, 7200, 7330, 7580, 7710, 7840, 7970, 8280, 8410, 8530, 8660, 8790, 8910, 9040, 9170, 9290, 9420, 9550, 9670, 9800, 9860, 10000, 10120, 10250, 10690, 10880, 11200, 11330, 11520, 11770, 11900, 12030, 12530, 12660, 12790, 14000, 14130, 14510, 15330, 15580, 15900]
const rowsH = [3, 5, 0, 2, 4, 1]
const rankedH = [[0, 0.18], [40, 0.14], [100, 0.11], [250, 0.08], [700, 0.06], [2000, 0.044], [4000, 0.026], [6000, 0.013], [8000, 0.004], [10000, -0.004], [12000, -0.011], [14000, -0.033], [15500, -0.06], [16000, -0.088], [16200, -0.12], [16300, -0.2]]

const pts = (a) => a.map(([x, y]) => ({ x, y }))
const fmt = (d) => (v) => v.toFixed(d)

const axisStroke = { stroke: "#333", strokeWidth: 0.6 }
const tickFont = { fontSize: 5, fill: "#4d4d4d" }
const titleStyle = { fontSize: 6.5, fill: "#000", textAnchor: "middle" }

function Panel(props) {
  const { x, y, mr, gene, sets, es, hits, rows, ranked, esDomain, esTicks, esDigits, rkDomain, rkTicks, legendX } = props
  return (
    <div style={{ position: "absolute", left: x, top: y, width: 468, height: 337 }}>
      <svg width={200} height={22} style={{ position: "absolute", left: 0, top: 0 }}>
        <text x={32} y={17.3} fontSize={8.5} fill="#000">{gene}</text>
      </svg>
      <svg width={468 - legendX} height={110} style={{ position: "absolute", left: legendX, top: 0, overflow: "hidden" }}>
        {sets.map((s, i) => (
          <g key={s}>
            <line x1={0} x2={12} y1={15.5 + 15 * i} y2={15.5 + 15 * i} stroke={hue[i]} strokeWidth={1.4} />
            <text x={17} y={17.3 + 15 * i} fontSize={5.2} fill="#222">{s}</text>
          </g>
        ))}
      </svg>

      <div style={{ position: "absolute", left: 0, top: 22.5 }}>
        <LineChart width={468} height={146} margin={{ top: 0, right: mr, bottom: 0, left: 10 }}>
          <CartesianGrid horizontal={false} stroke="#ebebeb" strokeWidth={0.8} />
          <XAxis type="number" dataKey="x" domain={[0, maxRank]} ticks={gridTicks} tick={false} tickLine={false} axisLine={false} height={0} allowDataOverflow />
          <YAxis
            type="number"
            domain={esDomain}
            ticks={esTicks}
            tickFormatter={fmt(esDigits)}
            width={22}
            tick={tickFont}
            tickSize={2}
            tickMargin={1}
            tickLine={axisStroke}
            axisLine={axisStroke}
            allowDataOverflow
            label={{ value: "Running Enrichment Score", angle: -90, position: "insideLeft", offset: 3, style: titleStyle }}
          />
          {es.map((d, i) => (
            <Line key={i} data={pts(d)} dataKey="y" type="linear" stroke={hue[i]} strokeWidth={1.3} dot={false} isAnimationActive={false} />
          ))}
        </LineChart>
      </div>

      <div style={{ position: "absolute", left: 0, top: 168.5 }}>
        <ScatterChart width={468} height={53} margin={{ top: 0, right: mr, bottom: 0, left: 32 }}>
          <XAxis type="number" dataKey="x" domain={[0, maxRank]} hide allowDataOverflow />
          <YAxis type="number" dataKey="y" domain={[0, 6]} reversed hide allowDataOverflow />
          {rows.map((ci, r) => (
            <Scatter
              key={r}
              data={hits[ci].map((h) => ({ x: h, y: r + 0.5 }))}
              isAnimationActive={false}
              shape={(p) => <rect x={p.cx - 0.5} y={p.cy - 4.2} width={1} height={8.4} fill={hue[ci]} fillOpacity={0.85} />}
            />
          ))}
        </ScatterChart>
      </div>

      <div style={{ position: "absolute", left: 0, top: 221.5 }}>
        <AreaChart width={468} height={117} data={pts(ranked)} margin={{ top: 0, right: mr, bottom: 0, left: 10 }}>
          <CartesianGrid horizontal={false} verticalValues={gridTicks} stroke="#ebebeb" strokeWidth={0.8} />
          <XAxis
            type="number"
            dataKey="x"
            domain={[0, maxRank]}
            ticks={rankTicks}
            height={20}
            tick={tickFont}
            tickSize={2}
            tickMargin={1}
            tickLine={axisStroke}
            axisLine={axisStroke}
            allowDataOverflow
            label={{ value: "Rank in Ordered Dataset", position: "insideBottom", offset: 4, style: titleStyle }}
          />
          <YAxis
            type="number"
            domain={rkDomain}
            ticks={rkTicks}
            tickFormatter={fmt(1)}
            width={22}
            tick={tickFont}
            tickSize={2}
            tickMargin={1}
            tickLine={axisStroke}
            axisLine={axisStroke}
            allowDataOverflow
            label={{ value: "Ranked List Metric", angle: -90, position: "insideLeft", offset: 3, style: titleStyle }}
          />
          <Area dataKey="y" type="monotone" baseValue={0} fill="#b4b4b4" fillOpacity={1} stroke="#aaaaaa" strokeWidth={0.4} isAnimationActive={false} />
        </AreaChart>
      </div>
    </div>
  )
}

const esTicks4 = [0, 0.2, 0.4, 0.6]
const rkTicksAB = [-0.2, -0.1, 0, 0.1, 0.2]
const rkTicksCD = [-0.2, 0, 0.2, 0.4]
const rkTicksEF = [-0.2, -0.1, 0, 0.1, 0.2, 0.3]

const panels = [
  { x: 0, y: 0, mr: 6.5, gene: "ITGAM", sets: setsA, es: [esA1, esA2, esA3, esA4, esA5, esA6], hits: [hitsA1, hitsA2, hitsA3, hitsA4, hitsA5, hitsA6], rows: rowsA, ranked: rankedA, esDomain: [-0.066, 0.833], esTicks: [0, 0.2, 0.4, 0.6, 0.8], esDigits: 1, rkDomain: [-0.225, 0.258], rkTicks: rkTicksAB, legendX: 313 },
  { x: 467, y: 0, mr: 7.7, gene: "ITGAM", sets: setsB, es: [esB1, esB2, esB3, esB4, esB5, esB6], hits: [hitsB1, hitsB2, hitsB3, hitsB4, hitsB5, hitsB6], rows: rowsB, ranked: rankedB, esDomain: [-0.078, 0.729], esTicks: esTicks4, esDigits: 1, rkDomain: [-0.225, 0.258], rkTicks: rkTicksAB, legendX: 285 },
  { x: 0, y: 337, mr: 6.5, gene: "S100A8", sets: setsC, es: [esC1, esC2, esC3, esC4, esC5, esC6], hits: [hitsC1, hitsC2, hitsC3, hitsC4, hitsC5, hitsC6], rows: rowsC, ranked: rankedC, esDomain: [-0.895, 0.805], esTicks: [-0.5, 0, 0.5], esDigits: 1, rkDomain: [-0.287, 0.425], rkTicks: rkTicksCD, legendX: 239 },
  { x: 467, y: 337, mr: 7.7, gene: "S100A8", sets: setsD, es: [esD1, esD2, esD3, esD4, esD5, esD6], hits: [hitsD1, hitsD2, hitsD3, hitsD4, hitsD5, hitsD6], rows: rowsD, ranked: rankedD, esDomain: [-0.432, 0.674], esTicks: [-0.25, 0, 0.25, 0.5], esDigits: 2, rkDomain: [-0.287, 0.425], rkTicks: rkTicksCD, legendX: 294 },
  { x: 0, y: 674, mr: 6.5, gene: "CD14", sets: setsE, es: [esE1, esE2, esE3, esE4, esE5, esE6], hits: [hitsE1, hitsE2, hitsE3, hitsE4, hitsE5, hitsE6], rows: rowsE, ranked: rankedE, esDomain: [-0.052, 0.725], esTicks: esTicks4, esDigits: 1, rkDomain: [-0.27, 0.3], rkTicks: rkTicksEF, legendX: 314 },
  { x: 467, y: 674, mr: 7.7, gene: "CD14", sets: setsF, es: [esF1, esF2, esF3, esF4, esF5, esF6], hits: [hitsF1, hitsF2, hitsF3, hitsF4, hitsF5, hitsF6], rows: rowsF, ranked: rankedF, esDomain: [-0.116, 0.666], esTicks: esTicks4, esDigits: 1, rkDomain: [-0.27, 0.3], rkTicks: rkTicksEF, legendX: 295 },
  { x: 0, y: 1011, mr: 6.5, gene: "SFPR2", sets: setsE, es: [esE1, esE2, esE3, esE4, esE5, esE6], hits: [hitsE1, hitsE2, hitsE3, hitsE4, hitsE5, hitsE6], rows: rowsG, ranked: rankedE, esDomain: [-0.052, 0.726], esTicks: esTicks4, esDigits: 1, rkDomain: [-0.27, 0.3], rkTicks: rkTicksEF, legendX: 314 },
  { x: 467, y: 1011, mr: 7.7, gene: "SFRP2", sets: setsH, es: [esH1, esH2, esH3, esH4, esH5, esH6], hits: [hitsH1, hitsH2, hitsH3, hitsH4, hitsH5, hitsH6], rows: rowsH, ranked: rankedH, esDomain: [-0.167, 0.776], esTicks: esTicks4, esDigits: 1, rkDomain: [-0.22, 0.417], rkTicks: rkTicksCD, legendX: 285 },
]

const letters = [
  { t: "A", x: 3, y: 16.5 }, { t: "B", x: 469, y: 16.5 },
  { t: "C", x: 3, y: 336 }, { t: "D", x: 469, y: 336 },
  { t: "E", x: 3, y: 684 }, { t: "F", x: 469, y: 684 },
  { t: "G", x: 3, y: 1012 }, { t: "H", x: 469, y: 1012 },
]

export default function App() {
  return (
    <div style={{ position: "absolute", left: 0, top: 0, width: 937, height: 1348, background: "#fff", fontFamily: '"Liberation Sans", Arial, sans-serif', overflow: "hidden" }}>
      {panels.map((p) => (
        <Panel key={p.x + "-" + p.y} {...p} />
      ))}
      <svg width={937} height={1348} style={{ position: "absolute", left: 0, top: 0, pointerEvents: "none" }}>
        {letters.map((l) => (
          <text key={l.t} x={l.x} y={l.y} fontSize={20} fontWeight="bold" fontFamily='"Liberation Serif", "Times New Roman", serif' fill="#000">{l.t}</text>
        ))}
      </svg>
    </div>
  )
}
